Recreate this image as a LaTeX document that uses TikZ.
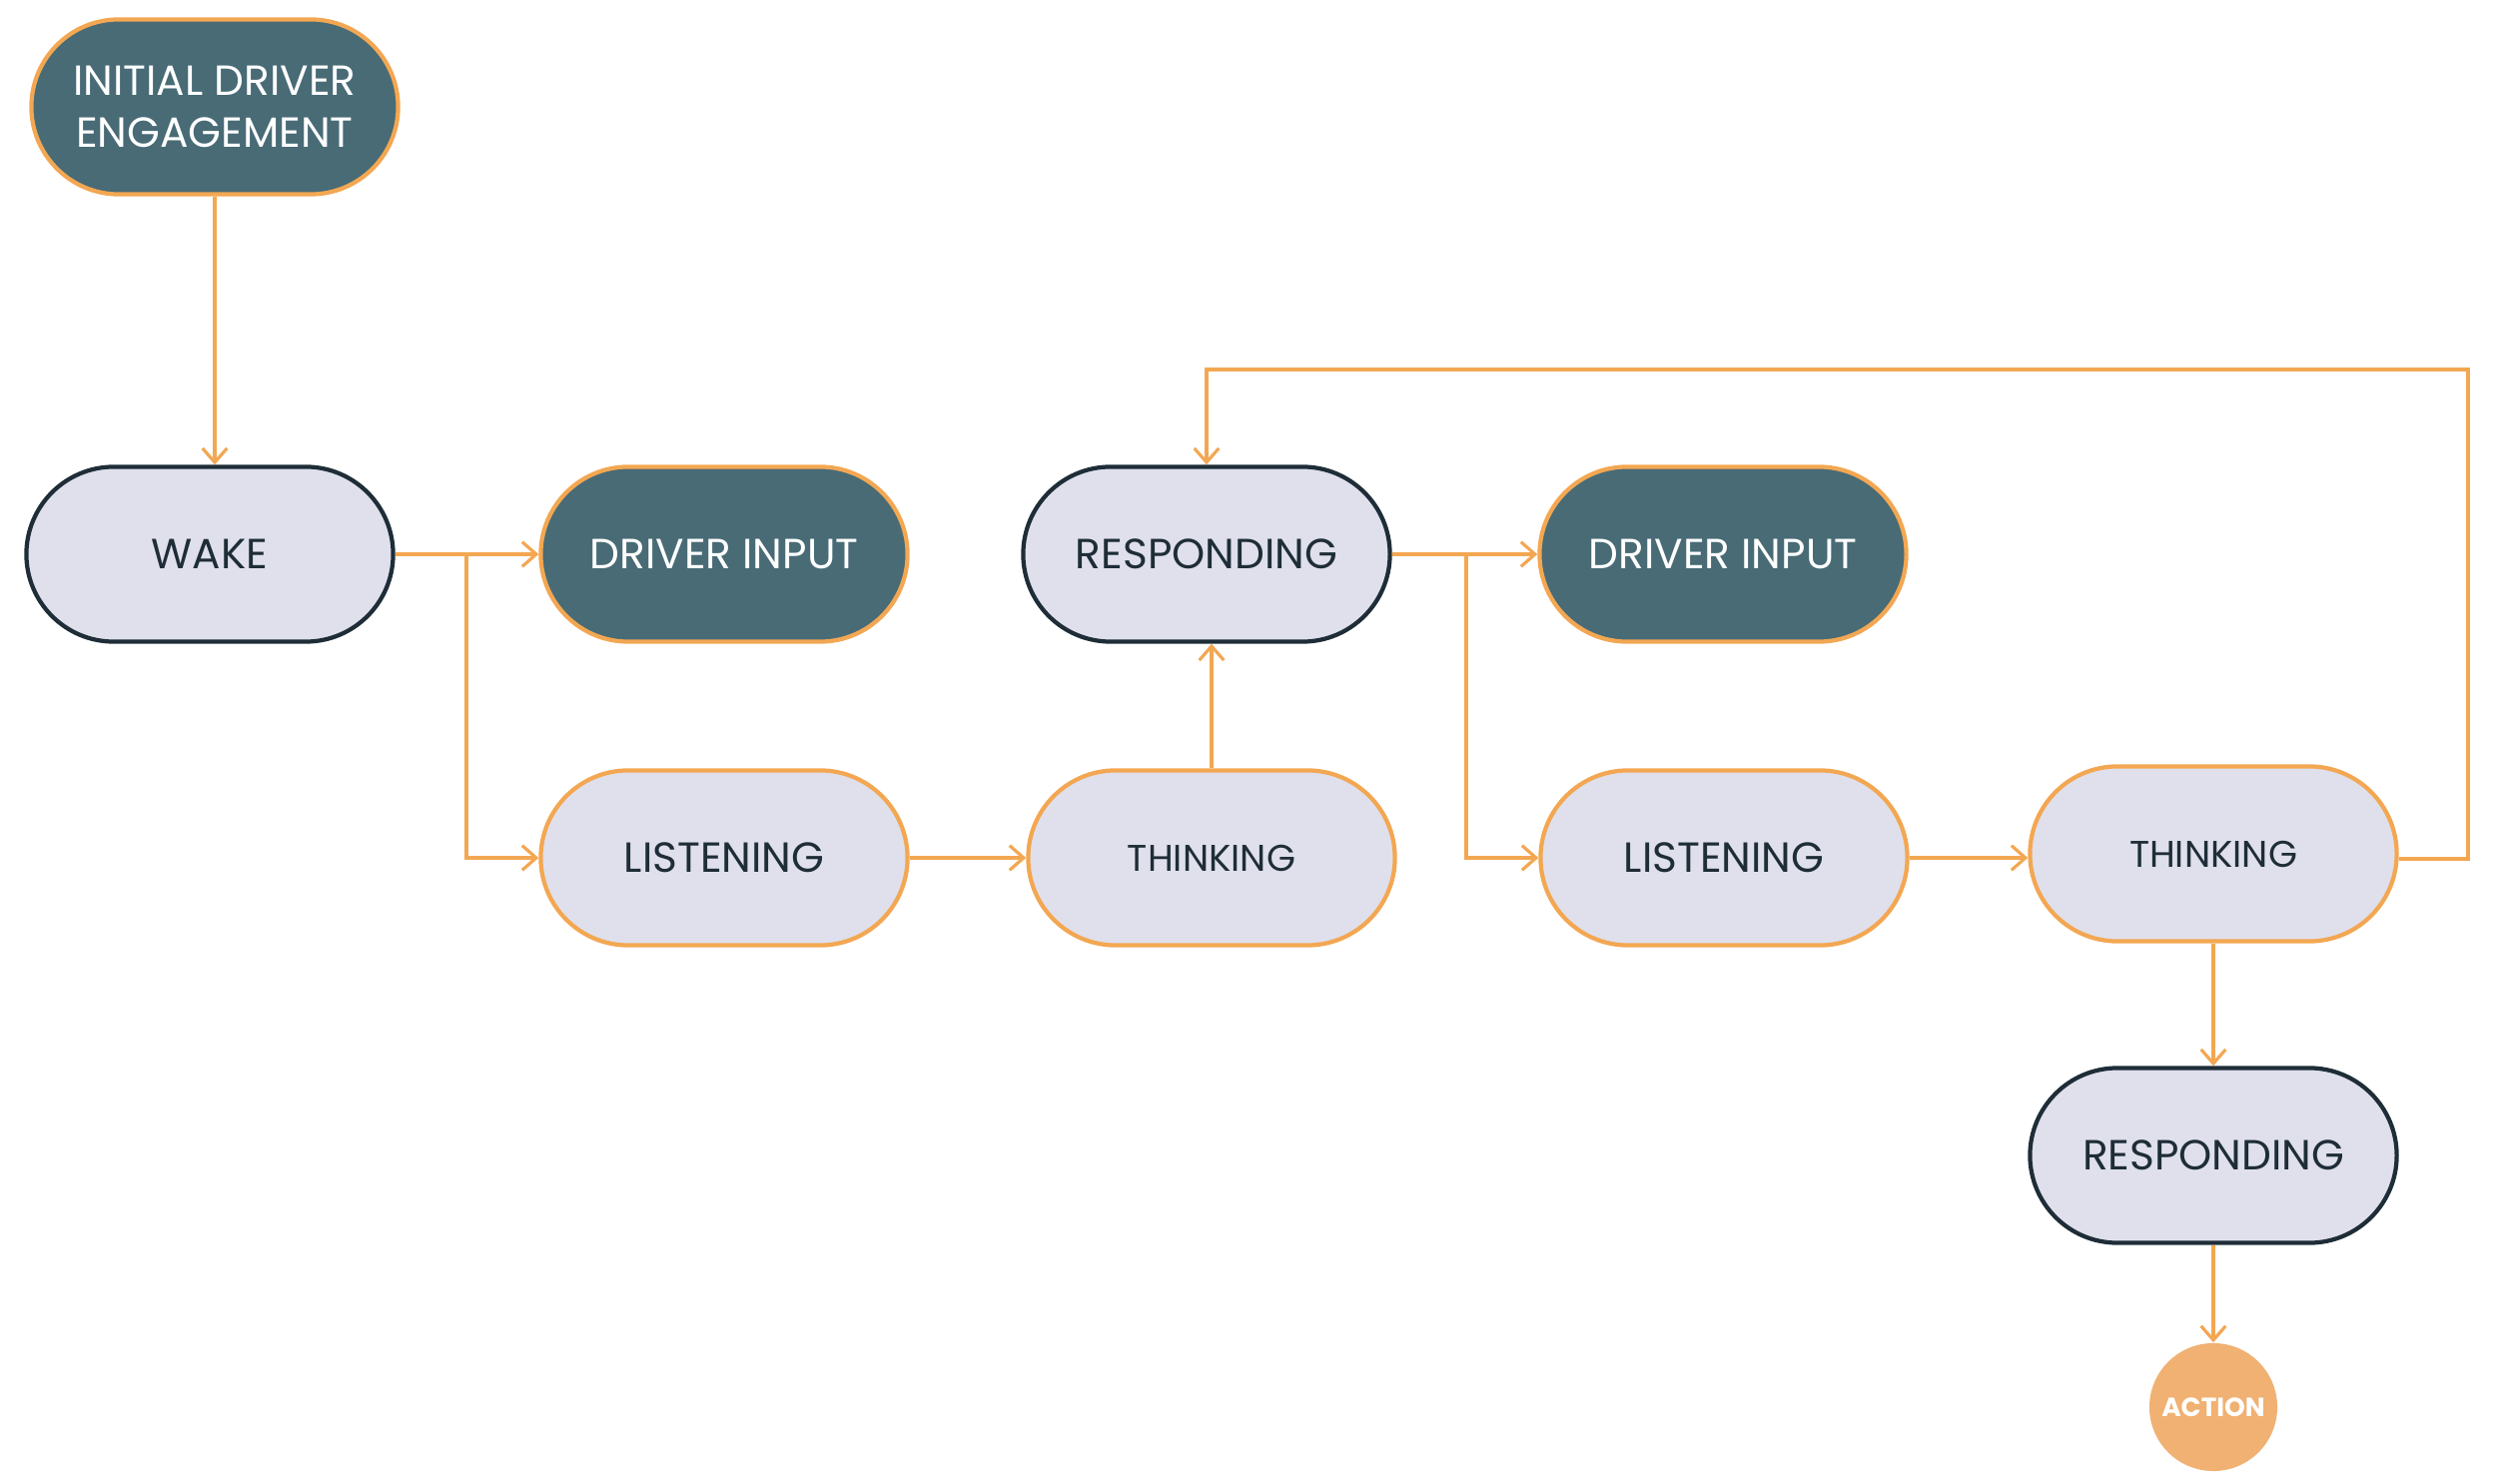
\documentclass[tikz,border=0pt]{standalone}
\usepackage{fontspec}
\setmainfont{Poppins}
\usetikzlibrary{shapes.misc,arrows.meta}
\definecolor{teal}{HTML}{486B76}
\definecolor{lav}{HTML}{DFE0EC}
\definecolor{org}{HTML}{F3A752}
\definecolor{dark}{HTML}{1E2D37}
\definecolor{actfill}{HTML}{F0B173}
\begin{document}
\begin{tikzpicture}[x=0.01cm,y=-0.01cm,
  stad/.style={rounded rectangle, minimum width=3.67cm, minimum height=1.75cm, inner sep=0pt, line width=1.2pt, font=\fontsize{12}{14.6}\selectfont, align=center},
  darkbox/.style={stad, fill=teal, draw=org, text=white},
  lightbox/.style={stad, fill=lav, draw=dark, text=dark},
  lightorg/.style={stad, fill=lav, draw=org, text=dark},
  smalltext/.style={font=\fontsize{10.6}{13}\selectfont},
  conn/.style={draw=org, line width=0.9pt, -{Straight Barb[length=4pt,width=7pt,line width=0.9pt]}}]
\path[use as bounding box] (0,0) rectangle (2500,1486);
\node[darkbox] (init) at (215,107) {INITIAL DRIVER\\ENGAGEMENT};
\node[lightbox] (wake) at (210,555) {WAKE};
\node[darkbox] (di1) at (725,555) {DRIVER INPUT};
\node[lightbox] (resp1) at (1208,555) {RESPONDING};
\node[darkbox] (di2) at (1725,555) {DRIVER INPUT};
\node[lightorg] (list1) at (725,859) {LISTENING};
\node[lightorg, smalltext] (think1) at (1213,859) {THINKING};
\node[lightorg] (list2) at (1726,859) {LISTENING};
\node[lightorg, smalltext] (think2) at (2216,855) {THINKING};
\node[lightbox] (resp2) at (2216,1157) {RESPONDING};
\node[circle, fill=actfill, minimum size=1.28cm, inner sep=0pt, text=white, font=\fontsize{7.5}{9}\selectfont\bfseries] (act) at (2216,1409) {ACTION};
\coordinate (b1) at (467,555);
\coordinate (b2) at (1468,555);
\coordinate (lr) at (2471,860);
\coordinate (lt) at (2471,370);
\draw[conn] (init.south) -- (init.south |- wake.north);
\draw[conn] (wake.east) -- (di1.west);
\draw[conn] (b1) |- (list1.west);
\draw[conn] (list1.east) -- (think1.west);
\draw[conn] (think1.north) -- (think1.north |- resp1.south);
\draw[conn] (resp1.east) -- (di2.west);
\draw[conn] (b2) |- (list2.west);
\draw[conn] (list2.east) -- (list2.east -| think2.west);
\draw[conn] (think2.east |- lr) -- (lr) -- (lt) -| (resp1.north);
\draw[conn] (think2.south) -- (resp2.north);
\draw[conn] (resp2.south) -- (act.north);
\end{tikzpicture}
\end{document}
